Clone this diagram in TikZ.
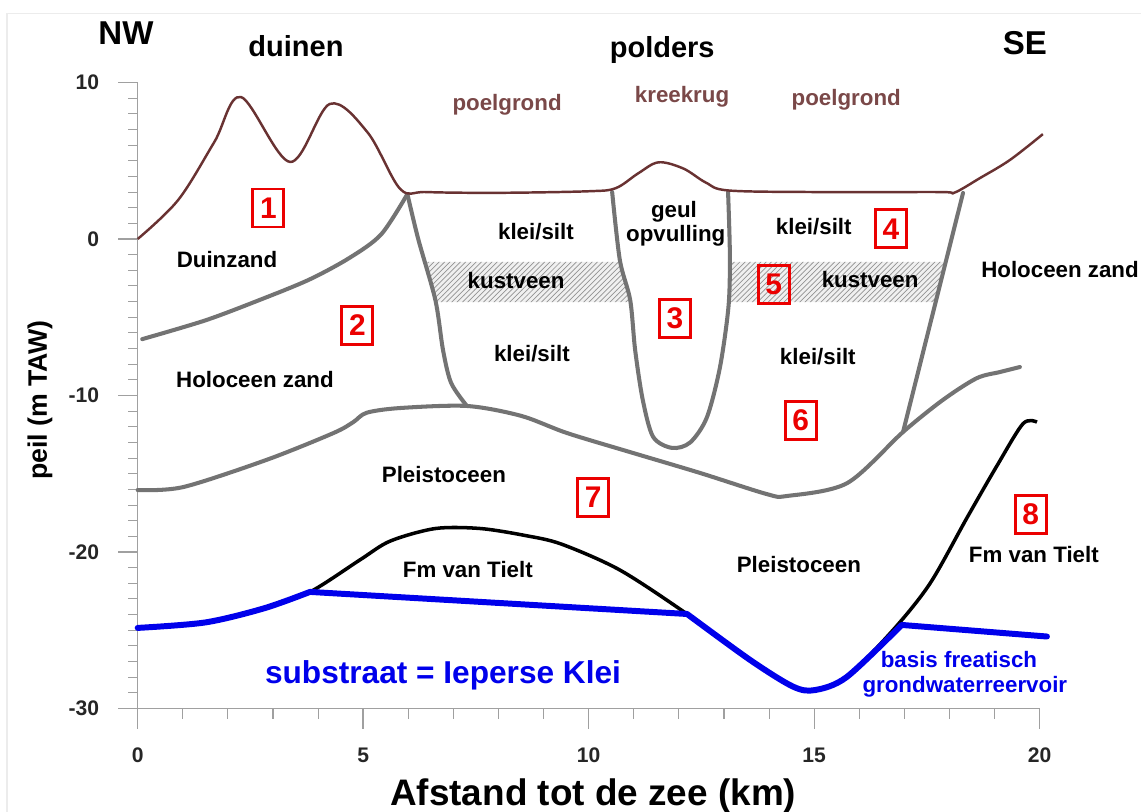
\documentclass[tikz,border=0pt]{standalone}
\usepackage{fontspec}
\setmainfont{Liberation Sans}
\usepackage{xcolor}
\usetikzlibrary{patterns}

\definecolor{maaiveld}{RGB}{105,50,50}
\definecolor{bodemtekst}{RGB}{122,72,72}
\definecolor{grens}{RGB}{115,115,115}
\definecolor{ieper}{RGB}{0,0,235}
\definecolor{rood}{RGB}{235,0,0}
\definecolor{asgrijs}{RGB}{160,160,160}

\tikzset{
    laag/.style={font=\bfseries\fontsize{12.7}{14}\selectfont, anchor=base}, % tekst in een laag
    bodem/.style={laag, text=bodemtekst}, % bodemtypes aan het maaiveld
    kop/.style={font=\bfseries\fontsize{16.5}{19}\selectfont, anchor=base}, % landschap bovenaan
    wind/.style={font=\bfseries\fontsize{18.8}{21}\selectfont, anchor=base}, % NW en SE
    nummer/.style={draw=rood, line width=1.7pt, text=rood, font=\bfseries\fontsize{17}{17}\selectfont,
        minimum width=0.62cm, minimum height=0.76cm, inner sep=0pt}, % rode kaders
    schaal/.style={font=\bfseries\fontsize{12}{14}\selectfont, text=black!85}, % getallen langs de assen
}
\tikzstyle{grenslijn} = [grens, line width=2.3pt, line cap=round, line join=round]
\tikzstyle{veen} = [fill=gray!12, postaction={pattern=north east lines, pattern color=gray!85}]

\begin{document}
\begin{tikzpicture}[x=0.902cm, y=0.313cm]
    \useasboundingbox (-3.053,-36.61) rectangle (22.246,15.27);
    \draw[gray!15, line width=0.6pt] (-2.898,-36.61) -- (-2.898,14.38) -- (22.246,14.38);

    % assen
    \draw[asgrijs, line width=0.8pt] (0,10) -- (0,-30) -- (20,-30);
    \foreach \m in {-29,...,9}
        \draw[asgrijs, line width=0.6pt] (0,\m) -- ++(-0.2cm,0);
    \foreach \m in {10,0,-10,-20,-30}{
        \draw[asgrijs, line width=0.8pt] (0,\m) -- ++(-0.4cm,0);
        \node[schaal, anchor=east] (y\m) at (-0.72,\m) {\m};
    }
    \foreach \k in {1,...,19}
        \draw[asgrijs, line width=0.6pt] (\k,-30) -- ++(0,-0.2cm);
    \foreach \k in {0,5,...,20}{
        \draw[asgrijs, line width=0.8pt] (\k,-30) -- ++(0,-0.4cm);
        \node[schaal] (x\k) at (\k,-32.97) {\k};
    }
    \node[font=\bfseries\fontsize{21}{24}\selectfont, anchor=base] (afstand) at (10.1,-36.17) {Afstand tot de zee (km)};
    \node[font=\bfseries\fontsize{15.2}{18}\selectfont, rotate=90] (peil) at (-2.166,-10.29) {peil (m TAW)};

    % kustveen
    \fill[veen] (6.42,-1.47) -- (10.72,-1.47) -- (10.9,-4.03) -- (6.6,-4.03) -- cycle;
    \fill[veen] (13.1,-1.47) -- (17.92,-1.47) -- (17.69,-4.03) -- (13.1,-4.03) -- cycle;

    % grenzen tussen de lagen
    \coordinate (duintop) at (5.98,2.87);
    \coordinate (poldervoet) at (7.3,-10.67);
    \coordinate (oostvoet) at (16.97,-12.33);
    \draw[grenslijn] plot[smooth] coordinates {(0.1,-6.4) (1.5,-5.2) (2.7,-3.9) (3.8,-2.6) (4.7,-1.2) (5.4,0.3) (duintop)};
    \draw[grenslijn] plot[smooth] coordinates {(duintop) (6.22,0) (6.6,-3.9) (6.77,-7.1) (6.95,-9.2) (poldervoet)};
    \draw[grenslijn] plot[smooth] coordinates {(0,-16.04) (1.01,-15.85) (2.87,-14.1) (4.34,-12.4) (4.78,-11.7)
        (5.08,-11.1) (5.82,-10.8) (poldervoet) (8.5,-11.3) (9.52,-12.4) (10.98,-13.67) (12.47,-14.95)
        (13.95,-16.3) (14.4,-16.42) (15.73,-15.6) (oostvoet) (17.85,-10.29) (18.6,-8.9) (19.12,-8.5) (19.56,-8.18)};
    \draw[grenslijn] plot[smooth] coordinates {(10.52,3.0) (10.69,-1.34) (10.92,-3.9) (11.03,-7.1) (11.2,-10.3)
        (11.43,-12.65) (11.85,-13.35) (12.25,-13.0) (12.62,-11.4) (12.91,-8.2) (13.1,-4.3) (13.13,-1) (13.09,3.0)};
    \draw[grenslijn] (18.3,2.94) -- (oostvoet);

    % maaiveld
    \draw[maaiveld, line width=1.4pt, line join=round] plot[smooth, tension=0.55] coordinates {(0,0) (0.9,2.5)
        (1.7,6.2) (2.29,9.07) (3.38,4.92) (4.26,8.63) (5.1,6.8) (5.82,3.2) (6.4,3.0)
        (8,2.95) (10,3.05) (10.6,3.25) (11.1,4.2) (11.55,4.9) (12.1,4.5) (12.6,3.6) (13.1,3.1) (15,3.0)
        (17.8,3.0) (18.1,2.95) (18.68,3.9) (19.34,5.05) (20.07,6.7)};

    % top Fm van Tielt en basis van het reservoir
    \draw[black, line width=2pt, line join=round] plot[smooth] coordinates {(0,-24.85) (1.5,-24.5) (2.8,-23.6)
        (3.82,-22.55) (4.93,-20.5) (5.6,-19.3) (6.6,-18.5) (7.6,-18.5) (8.6,-18.95) (9.4,-19.5) (10.69,-21.15)
        (12.18,-23.96) (13.58,-26.9) (14.53,-28.6) (15.02,-28.82) (15.72,-27.99) (16.75,-24.98) (17.57,-22.0)
        (18.39,-17.8) (19.05,-14.5) (19.63,-11.8) (19.94,-11.7)};
    \draw[ieper, line width=3.4pt, line join=round, line cap=round]
        plot[smooth] coordinates {(0,-24.85) (1.5,-24.5) (2.8,-23.6) (3.82,-22.55)}
        -- plot[smooth] coordinates {(12.18,-23.96) (13.58,-26.9) (14.53,-28.6) (15.02,-28.82) (15.72,-27.99) (16.94,-24.66)}
        -- (20.16,-25.4);

    % opschriften
    \node[wind] (nw) at (-0.26,12.4) {NW};
    \node[kop] (duinen) at (3.51,11.63) {duinen};
    \node[kop] (polders) at (11.63,11.6) {polders};
    \node[wind] (se) at (19.67,11.76) {SE};

    \node[bodem] (poel1) at (8.19,8.24) {poelgrond};
    \node[bodem] (kreek) at (12.07,8.69) {kreekrug};
    \node[bodem] (poel2) at (15.71,8.56) {poelgrond};

    \node[laag] (duinzand) at (1.98,-1.79) {Duinzand};
    \node[laag] (holo1) at (2.6,-9.52) {Holoceen zand};
    \node[laag] (holo2) at (20.45,-2.43) {Holoceen zand};
    \node[laag] (klei1) at (8.83,-0.06) {klei/silt};
    \node[laag] (klei2) at (14.99,0.26) {klei/silt};
    \node[laag] (klei3) at (8.74,-7.8) {klei/silt};
    \node[laag] (klei4) at (15.08,-8.05) {klei/silt};
    \node[laag] (geul) at (11.89,1.4) {geul};
    \node[laag] (opvulling) at (11.93,-0.19) {opvulling};
    \node[laag] (veen1) at (8.39,-3.19) {kustveen};
    \node[laag] (veen2) at (16.24,-3.07) {kustveen};
    \node[laag] (pleist1) at (6.79,-15.59) {Pleistoceen};
    \node[laag] (pleist2) at (14.66,-21.28) {Pleistoceen};
    \node[laag] (tielt1) at (7.32,-21.66) {Fm van Tielt};
    \node[laag] (tielt2) at (19.87,-20.64) {Fm van Tielt};

    \node[font=\bfseries\fontsize{18}{20}\selectfont, text=ieper, anchor=base] (klei) at (6.77,-28.37) {substraat = Ieperse Klei};
    \node[laag, text=ieper] (basis1) at (18.21,-27.41) {basis freatisch};
    \node[laag, text=ieper] (basis2) at (18.34,-29.0) {grondwaterreervoir};

    % genummerde eenheden
    \node[nummer] (n1) at (2.9,1.98) {1};
    \node[nummer] (n2) at (4.87,-5.5) {2};
    \node[nummer] (n3) at (11.91,-5.05) {3};
    \node[nummer] (n4) at (16.7,0.64) {4};
    \node[nummer] (n5) at (14.1,-2.9) {5};
    \node[nummer] (n6) at (14.7,-11.6) {6};
    \node[nummer] (n7) at (10.1,-16.5) {7};
    \node[nummer] (n8) at (19.8,-17.6) {8};
\end{tikzpicture}
\end{document}
